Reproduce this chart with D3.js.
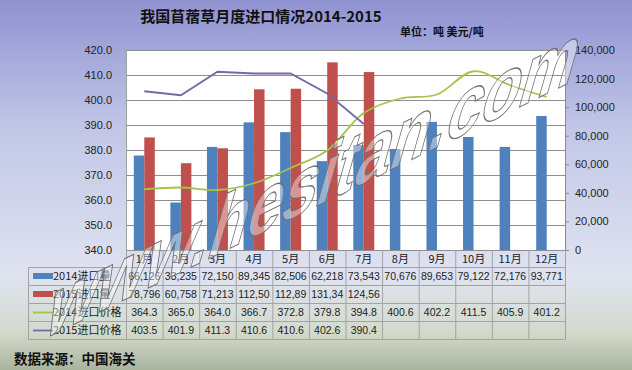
<!DOCTYPE html>
<html>
<head>
<meta charset="utf-8">
<script src="https://cdn.jsdelivr.net/npm/d3@7"></script>
<style>
  body { margin: 0; }
  svg { display: block; }
</style>
</head>
<body>
<div id="chart"></div>
<script>
// data
var months = ["1月", "2月", "3月", "4月", "5月", "6月", "7月", "8月", "9月", "10月", "11月", "12月"];
var qty2014 = [66126, 33235, 72150, 89345, 82506, 62218, 73543, 70676, 89653, 79122, 72176, 93771];
var qty2015 = [78796, 60758, 71213, 112500, 112890, 131340, 124560];
var price2014 = [364.3, 365.0, 364.0, 366.7, 372.8, 379.8, 394.8, 400.6, 402.2, 411.5, 405.9, 401.2];
var price2015 = [403.5, 401.9, 411.3, 410.6, 410.6, 402.6, 390.4];
var seriesNames = ["2014进口量", "2015进口量", "2014进口价格", "2015进口价格"];
var leftTicks = [340, 350, 360, 370, 380, 390, 400, 410, 420];
var rightTicks = [0, 20000, 40000, 60000, 80000, 100000, 120000, 140000];

var W = 632, H = 370;
var plot = {left: 126, right: 565, top: 50, bottom: 250};
var tableLeft = 28, headH = 17, rowH = 18;
var colors = {q14: "#4f81bd", q15: "#c0504d", p14: "#a4c34a", p15: "#7b65a6"};
var latin = "'Liberation Sans', Arial, 'Noto Sans CJK SC', sans-serif";
var cjk = "'Noto Sans CJK SC', 'Liberation Sans', sans-serif";

var svg = d3.select("#chart").append("svg")
    .attr("width", W)
    .attr("height", H);

// background gradient
var grad = svg.append("defs").append("linearGradient")
    .attr("id", "bg").attr("x1", 0).attr("y1", 0).attr("x2", 0).attr("y2", 1);
[[0, "#8f92d0"], [0.35, "#c2c7e8"], [0.75, "#dfe3f0"], [0.9, "#d3dacb"], [1, "#a8b49e"]]
  .forEach(function(s) { grad.append("stop").attr("offset", s[0]).attr("stop-color", s[1]); });
svg.append("rect").attr("width", W).attr("height", H).attr("fill", "url(#bg)");

// scales
var x = d3.scaleBand().domain(months).range([plot.left, plot.right]);
var xs = d3.scaleBand().domain(["2014", "2015"])
    .range([x.bandwidth() / 2 - 10.5, x.bandwidth() / 2 + 10.5]);
var yL = d3.scaleLinear().domain([340, 420]).range([plot.bottom, plot.top]);
var yR = d3.scaleLinear().domain([0, 140000]).range([plot.bottom, plot.top]);

// plot area
svg.append("rect")
    .attr("x", plot.left).attr("y", plot.top)
    .attr("width", plot.right - plot.left).attr("height", plot.bottom - plot.top)
    .attr("fill", "#fff");

svg.append("g").selectAll("line")
  .data(leftTicks)
  .enter().append("line")
    .attr("x1", plot.left).attr("x2", plot.right)
    .attr("y1", function(d) { return yL(d) + 0.5; })
    .attr("y2", function(d) { return yL(d) + 0.5; })
    .attr("stroke", "#8e8e8e").attr("stroke-width", 1);

// bars
svg.append("g").selectAll("rect")
  .data(qty2014)
  .enter().append("rect")
    .attr("x", function(d, i) { return x(months[i]) + xs("2014"); })
    .attr("y", function(d) { return yR(d); })
    .attr("width", xs.bandwidth())
    .attr("height", function(d) { return yR(0) - yR(d); })
    .attr("fill", colors.q14);

svg.append("g").selectAll("rect")
  .data(qty2015)
  .enter().append("rect")
    .attr("x", function(d, i) { return x(months[i]) + xs("2015"); })
    .attr("y", function(d) { return yR(d); })
    .attr("width", xs.bandwidth())
    .attr("height", function(d) { return yR(0) - yR(d); })
    .attr("fill", colors.q15);

// price lines
var cx = function(d, i) { return x(months[i]) + x.bandwidth() / 2; };
svg.append("path")
    .datum(price2014)
    .attr("fill", "none").attr("stroke", colors.p14).attr("stroke-width", 1.8)
    .attr("d", d3.line().x(cx).y(function(d) { return yL(d); }).curve(d3.curveCatmullRom));
svg.append("path")
    .datum(price2015)
    .attr("fill", "none").attr("stroke", colors.p15).attr("stroke-width", 1.8)
    .attr("d", d3.line().x(cx).y(function(d) { return yL(d); }));

// axes
var axL = svg.append("g")
    .attr("transform", "translate(" + plot.left + ",0)")
    .call(d3.axisLeft(yL).tickValues(leftTicks).tickFormat(d3.format(".1f")).tickSize(0).tickPadding(14));
axL.select(".domain").attr("stroke", "#a0a0a0");

var axR = svg.append("g")
    .attr("transform", "translate(" + plot.right + ",0)")
    .call(d3.axisRight(yR).tickValues(rightTicks).tickFormat(d3.format(",")).tickSizeInner(4).tickSizeOuter(0).tickPadding(6));
axR.select(".domain").attr("stroke", "#8a8a8a");
axR.selectAll(".tick line").attr("stroke", "#8a8a8a");

svg.selectAll(".tick text")
    .attr("font-family", latin).attr("font-size", "11px").attr("fill", "#222");

// data table
var tableTop = plot.bottom + headH;
var tableBottom = tableTop + rowH * 4;
var grid = svg.append("g").attr("stroke", "#a3a3a3").attr("stroke-width", 1).attr("fill", "none");

// vertical cell borders
grid.selectAll("line.v")
  .data(months.concat(["end"]))
  .enter().append("line")
    .attr("class", "v")
    .attr("x1", function(d, i) { return plot.left + i * x.step() + 0.5; })
    .attr("x2", function(d, i) { return plot.left + i * x.step() + 0.5; })
    .attr("y1", plot.bottom).attr("y2", tableBottom);
grid.append("line")
    .attr("x1", tableLeft + 0.5).attr("x2", tableLeft + 0.5)
    .attr("y1", tableTop).attr("y2", tableBottom);
// horizontal borders
grid.selectAll("line.h")
  .data(d3.range(5))
  .enter().append("line")
    .attr("class", "h")
    .attr("x1", tableLeft).attr("x2", plot.right + 0.5)
    .attr("y1", function(d) { return tableTop + d * rowH + 0.5; })
    .attr("y2", function(d) { return tableTop + d * rowH + 0.5; });

// month header
svg.append("g").selectAll("text")
  .data(months)
  .enter().append("text")
    .attr("x", function(d) { return x(d) + x.bandwidth() / 2; })
    .attr("y", plot.bottom + headH / 2 + 4)
    .attr("text-anchor", "middle")
    .attr("font-family", cjk).attr("font-size", "11px").attr("fill", "#222")
    .text(function(d) { return d; });

// rows: values in cells (narrow cells clip long numbers, like the original)
var fmtQty = function(v) { var s = d3.format(",")(v); return s.length > 6 ? s.slice(0, 6) : s; };
var fmtPrice = d3.format(".1f");
var rows = [
  {name: seriesNames[0], vals: qty2014, fmt: fmtQty, color: colors.q14, key: "bar"},
  {name: seriesNames[1], vals: qty2015, fmt: fmtQty, color: colors.q15, key: "bar"},
  {name: seriesNames[2], vals: price2014, fmt: fmtPrice, color: colors.p14, key: "line"},
  {name: seriesNames[3], vals: price2015, fmt: fmtPrice, color: colors.p15, key: "line"}
];

rows.forEach(function(r, ri) {
  var rowY = tableTop + ri * rowH;
  var g = svg.append("g");
  if (r.key === "bar") {
    g.append("rect")
        .attr("x", tableLeft + 5).attr("y", rowY + rowH / 2 - 3)
        .attr("width", 20).attr("height", 6).attr("fill", r.color);
  } else {
    g.append("line")
        .attr("x1", tableLeft + 5).attr("x2", tableLeft + 25)
        .attr("y1", rowY + rowH / 2 + 0.5).attr("y2", rowY + rowH / 2 + 0.5)
        .attr("stroke", r.color).attr("stroke-width", 1.8);
  }
  g.append("text")
      .attr("x", tableLeft + 25).attr("y", rowY + rowH / 2 + 4)
      .attr("font-family", cjk).attr("font-size", "11px").attr("fill", "#222")
      .text(r.name);
  g.selectAll("text.v")
    .data(r.vals)
    .enter().append("text")
      .attr("class", "v")
      .attr("x", function(d, i) { return x(months[i]) + x.bandwidth() / 2; })
      .attr("y", rowY + rowH / 2 + 4)
      .attr("text-anchor", "middle")
      .attr("font-family", latin).attr("font-size", "10.5px").attr("fill", "#222")
      .text(r.fmt);
});

// titles
svg.append("text")
    .attr("x", 261).attr("y", 22)
    .attr("text-anchor", "middle")
    .attr("font-family", cjk).attr("font-size", "15px").attr("font-weight", "bold").attr("fill", "#111")
    .text("我国苜蓿草月度进口情况2014-2015");
svg.append("text")
    .attr("x", 400).attr("y", 36)
    .attr("font-family", cjk).attr("font-size", "11px").attr("font-weight", "bold").attr("fill", "#111")
    .text("单位：吨 美元/吨");
svg.append("text")
    .attr("x", 14).attr("y", 364)
    .attr("font-family", cjk).attr("font-size", "13.5px").attr("font-weight", "bold").attr("fill", "#111")
    .text("数据来源：中国海关");

// watermark
svg.append("text")
    .attr("transform", "translate(42,340) rotate(-26) skewX(-42)")
    .attr("font-family", latin).attr("font-size", "70px").attr("font-weight", "bold")
    .attr("fill", "rgba(255,255,255,0.4)").attr("stroke", "#707070").attr("stroke-width", 1)
    .text("www.hesitan.com");
</script>
</body>
</html>
